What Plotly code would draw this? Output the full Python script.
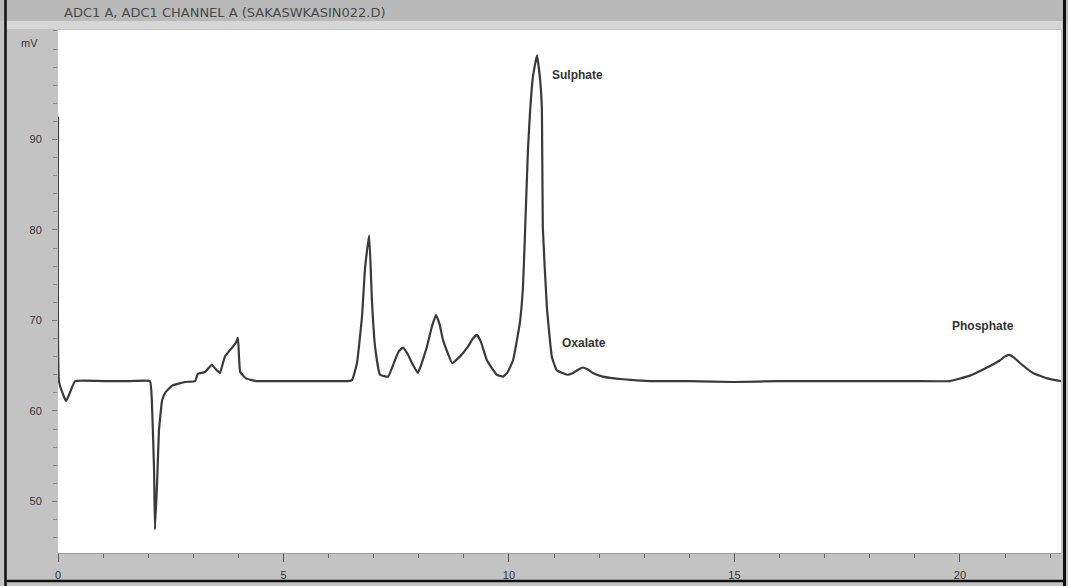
import plotly.graph_objects as go

# retention time (min) and signal (mV)
time_min = [0.00, 0.02, 0.09, 0.18, 0.27, 0.38, 1.00, 1.60, 2.04, 2.08, 2.13, 2.15, 2.20, 2.24,
            2.31, 2.39, 2.53, 2.82, 3.04, 3.10, 3.26, 3.41, 3.50, 3.59, 3.70, 3.86, 3.95,
            3.99, 4.04, 4.17, 4.39, 5.00, 5.80, 6.43, 6.52, 6.63, 6.74, 6.81, 6.90, 6.96,
            7.03, 7.14, 7.32, 7.47, 7.56, 7.65, 7.74, 7.85, 7.98, 8.18, 8.29, 8.38, 8.46,
            8.54, 8.74, 8.91, 9.09, 9.20, 9.29, 9.38, 9.51, 9.73, 9.87, 9.96, 10.09, 10.24,
            10.31, 10.35, 10.42, 10.47, 10.53, 10.62, 10.69, 10.73, 10.75, 10.84, 10.95,
            11.06, 11.29, 11.42, 11.55, 11.64, 11.74, 11.86, 12.08, 12.53, 13.13, 14.0,
            15.0, 16.0, 17.0, 18.0, 19.0, 19.78, 20.22, 20.60, 20.89, 20.99, 21.09, 21.20,
            21.33, 21.62, 21.93, 22.24]
signal_mv = [92.5, 63.3, 62.1, 61.1, 62.1, 63.3, 63.3, 63.3, 63.3, 61.2, 53.5, 46.9, 52.4, 57.9,
             61.2, 62.1, 62.8, 63.2, 63.3, 64.1, 64.3, 65.1, 64.6, 64.2, 66.0, 67.0, 67.6,
             68.1, 64.3, 63.6, 63.3, 63.3, 63.3, 63.3, 63.4, 65.3, 70.4, 75.9, 79.4, 72.3,
             67.1, 64.0, 63.8, 65.6, 66.6, 67.0, 66.4, 65.3, 64.2, 67.1, 69.3, 70.6, 69.6,
             67.8, 65.3, 66.0, 67.1, 68.0, 68.4, 67.6, 65.6, 64.0, 63.8, 64.2, 65.6, 69.7,
             73.7, 78.9, 88.8, 93.3, 96.9, 99.3, 96.6, 93.3, 80.3, 71.5, 66.0,
             64.5, 64.0, 64.2, 64.6, 64.8, 64.6, 64.2, 63.8, 63.5, 63.3, 63.3,
             63.2, 63.3, 63.3, 63.3, 63.3, 63.3, 63.9, 64.8, 65.6, 66.0, 66.2, 65.9,
             65.3, 64.2, 63.6, 63.3]

peak_names = ["Sulphate", "Oxalate", "Phosphate"]
peak_label_x = [10.91, 11.13, 19.78]
peak_label_y = [97.1, 67.5, 69.4]

x_ticks = [0, 5, 10, 15, 20]
y_ticks = [50, 60, 70, 80, 90]

title_text = "ADC1 A, ADC1 CHANNEL A (SAKASWKASIN022.D)"

fig = go.Figure()
fig.add_trace(go.Scatter(x=time_min, y=signal_mv, mode="lines",
                         line=dict(color="#3a3a3a", width=2.2, shape="spline", smoothing=0.35),
                         hoverinfo="x+y"))

for name, px, py in zip(peak_names, peak_label_x, peak_label_y):
    fig.add_annotation(x=px, y=py, text="<b>%s</b>" % name, showarrow=False,
                       xanchor="left", yanchor="middle",
                       font=dict(family="Liberation Sans, Arial", size=12, color="#333333"))

W, H = 1068, 586
L, R, T, B = 58, 7, 30, 33
pw, ph = W - L - R, H - T - B

def px_x(p):
    return (p - L) / pw

def px_y(p):
    return (H - B - p) / ph

# title bar and frame
fig.add_shape(type="rect", xref="paper", yref="paper", x0=px_x(0), x1=px_x(W), y0=px_y(21), y1=px_y(0),
              fillcolor="#b9b9b9", line=dict(width=0), layer="below")
fig.add_shape(type="rect", xref="paper", yref="paper", x0=px_x(7), x1=px_x(1062), y0=px_y(29), y1=px_y(21),
              fillcolor="#d6d6d6", line=dict(width=0), layer="below")
fig.add_shape(type="line", xref="paper", yref="paper", x0=px_x(5.5), x1=px_x(5.5), y0=px_y(586), y1=px_y(0),
              line=dict(color="#111111", width=2.5))
fig.add_shape(type="line", xref="paper", yref="paper", x0=px_x(1064.5), x1=px_x(1064.5), y0=px_y(586), y1=px_y(0),
              line=dict(color="#111111", width=3))
fig.add_shape(type="line", xref="paper", yref="paper", x0=px_x(5), x1=px_x(1066), y0=px_y(581), y1=px_y(581),
              line=dict(color="#111111", width=2.5))

fig.add_annotation(xref="paper", yref="paper", x=px_x(62), y=px_y(12), text=title_text,
                   showarrow=False, xanchor="left", yanchor="middle",
                   font=dict(family="DejaVu Sans", size=13, color="#4a4a4a"))
fig.add_annotation(xref="paper", yref="paper", x=px_x(29), y=px_y(43), text="mV",
                   showarrow=False, xanchor="center", yanchor="middle",
                   font=dict(family="Liberation Sans, Arial", size=11, color="#333333"))

axis_font = dict(family="Liberation Sans, Arial", size=11, color="#333333")
fig.update_xaxes(range=[0, 22.24], tickvals=x_ticks, ticktext=[str(v) for v in x_ticks],
                 ticks="outside", ticklen=8, tickcolor="#555555", tickwidth=1, color="#333333",
                 minor=dict(dtick=1, tick0=0, ticks="outside", ticklen=4, tickcolor="#666666"),
                 showgrid=False, zeroline=False, showline=True, linecolor="#9a9a9a", linewidth=1,
                 tickfont=axis_font, ticklabelstandoff=4, fixedrange=True)
fig.update_yaxes(range=[44.3, 102.1], tickvals=y_ticks, ticktext=[str(v) for v in y_ticks],
                 ticks="outside", ticklen=5, tickcolor="#777777", tickwidth=1, color="#333333",
                 minor=dict(dtick=2, tick0=50, ticks="outside", ticklen=4, tickcolor="#888888"),
                 showgrid=False, zeroline=False, showline=False,
                 tickfont=axis_font, ticklabelstandoff=8, fixedrange=True)

fig.update_layout(width=W, height=H, margin=dict(l=L, r=R, t=T, b=B, autoexpand=False),
                  paper_bgcolor="#c3c3c3", plot_bgcolor="#ffffff", showlegend=False,
                  font=dict(family="Liberation Sans, Arial", color="#333333"))

fig.write_html("out.html")
